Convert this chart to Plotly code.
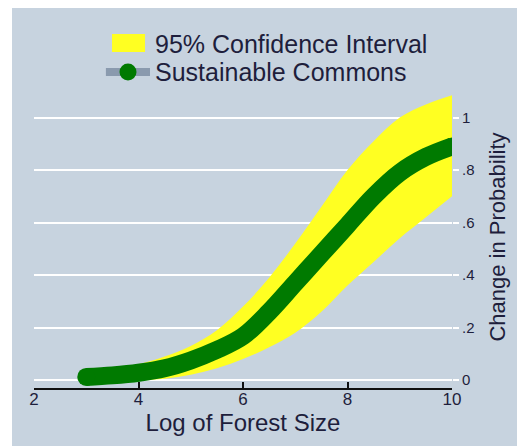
import plotly.graph_objects as go

# log of forest size
x = [3.0, 3.5, 4.0, 4.5, 5.0, 5.5, 6.0, 6.5, 7.0, 7.5, 8.0, 8.5, 9.0, 9.5, 10.0]
# predicted change in probability (sustainable commons)
prob = [0.012, 0.018, 0.028, 0.045, 0.075, 0.115, 0.167, 0.26, 0.37, 0.48, 0.59, 0.70, 0.79, 0.85, 0.89]
# 95% confidence bounds
lower = [0.0, 0.0, 0.0, 0.005, 0.02, 0.045, 0.08, 0.125, 0.18, 0.26, 0.36, 0.45, 0.54, 0.62, 0.70]
upper = [0.02, 0.035, 0.06, 0.09, 0.13, 0.19, 0.28, 0.39, 0.52, 0.66, 0.80, 0.91, 1.00, 1.05, 1.085]

y_ticks = [0, 0.2, 0.4, 0.6, 0.8, 1.0]
y_labels = ["0", ".2", ".4", ".6", ".8", "1"]
x_ticks = [2, 4, 6, 8, 10]

BG = "#C7D3DF"
TXT = "#1e1e3c"
YELLOW = "#FFFF22"
GREEN = "#007A00"
FONT = "Liberation Sans, Arial, sans-serif"

fig = go.Figure()

fig.add_trace(go.Scatter(
    x=x, y=lower, mode="lines", line=dict(width=0, color=YELLOW, shape="spline"),
    showlegend=False, hoverinfo="skip",
))
fig.add_trace(go.Scatter(
    x=x, y=upper, mode="lines", fill="tonexty", fillcolor=YELLOW,
    line=dict(width=0, color=YELLOW, shape="spline"),
    name="95% Confidence Interval", showlegend=False,
))
fig.add_trace(go.Scatter(
    x=x, y=prob, mode="lines", line=dict(color=GREEN, width=18, shape="spline"),
    name="Sustainable Commons", showlegend=False,
))
# round ends of the thick line
fig.add_trace(go.Scatter(
    x=[x[0], x[-1]], y=[prob[0], prob[-1]], mode="markers",
    marker=dict(color=GREEN, size=18), showlegend=False, hoverinfo="skip",
))

# white strip on the left edge of the original scan
fig.add_shape(type="rect", xref="paper", yref="paper", x0=-0.2, x1=-0.0526,
              y0=-0.3, y1=1.5, fillcolor="white", line_width=0, layer="above")

# hand-drawn legend (paper coords, above plot area)
fig.add_shape(type="rect", xref="paper", yref="paper", x0=0.1866, x1=0.2656,
              y0=1.1126, y1=1.1722, fillcolor=YELLOW, line_width=0)
fig.add_shape(type="line", xref="paper", yref="paper", x0=0.172, x1=0.2775,
              y0=1.0464, y1=1.0464, line=dict(color="#8A9AAE", width=8))
fig.add_shape(type="circle", xref="paper", yref="paper", x0=0.2045, x1=0.2452,
              y0=1.0182, y1=1.0745, fillcolor=GREEN, line_width=0)
for label, yp in [("95% Confidence Interval", 1.139), ("Sustainable Commons", 1.0464)]:
    fig.add_annotation(text=label, xref="paper", yref="paper", x=0.2847, y=yp,
                       xanchor="left", yanchor="middle", showarrow=False,
                       font=dict(size=25, color=TXT))

# the page body adds an 8px margin, so the figure is 8px smaller than the window
fig.update_layout(
    width=517, height=438,
    margin=dict(l=26, r=73, t=78, b=58),
    paper_bgcolor=BG, plot_bgcolor=BG,
    font=dict(family=FONT, color=TXT),
    showlegend=False,
)
fig.update_xaxes(
    range=[2, 10], tickvals=x_ticks, showgrid=False, zeroline=False, automargin=False,
    showline=True, linecolor="#111", linewidth=2,
    ticks="inside", ticklen=6, tickwidth=2, tickcolor="#111",
    tickfont=dict(size=17, color=TXT), ticklabelstandoff=-5,
    title=dict(text="Log of Forest Size", font=dict(size=24, color=TXT), standoff=0),
)
fig.update_yaxes(
    range=[-0.03, 1.12], side="right", tickvals=y_ticks, ticktext=y_labels,
    showgrid=True, gridcolor="white", gridwidth=2, zeroline=False, showline=False,
    automargin=False,
    ticks="outside", ticklen=6, tickcolor="white", tickwidth=2,
    tickfont=dict(size=15, color=TXT),
    title=dict(text="Change in Probability", font=dict(size=22, color=TXT), standoff=16),
)

fig.write_html("out.html")
